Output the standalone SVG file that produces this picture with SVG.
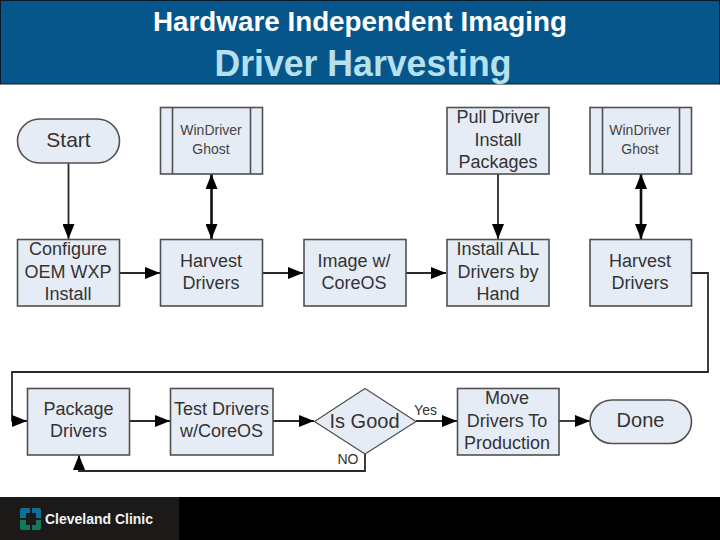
<svg xmlns="http://www.w3.org/2000/svg" width="720" height="540" viewBox="0 0 720 540">
<style>
text{font-family:"Liberation Sans",Arial,sans-serif;text-anchor:middle}
.b{fill:#e6ecf6;stroke:#505050;stroke-width:1.6}
.t{font-size:18px;fill:#333}
.s{font-size:14px;fill:#444}
.l{font-size:14px;fill:#333}
.c{fill:none;stroke:#2a2a2a;stroke-width:1.8}
.d{fill:none;stroke:#111;stroke-width:2.6}
</style>
<defs>
<marker id="a" markerUnits="userSpaceOnUse" markerWidth="16" markerHeight="12" refX="15" refY="6" orient="auto-start-reverse"><path d="M0 0L15 6L0 12Z" fill="#000"/></marker>
</defs>
<rect width="720" height="540" fill="#fff"/>
<g id="header">
<rect x="0.500" y="0.500" width="719" height="83.500" fill="#06568c" stroke="#0a1a28"/>
<text x="360" y="31" font-size="27.500" font-weight="bold" fill="#fff" textLength="414" lengthAdjust="spacingAndGlyphs">Hardware Independent Imaging</text>
<text x="363" y="76" font-size="36" font-weight="bold" fill="#b5e0ee" textLength="297" lengthAdjust="spacingAndGlyphs">Driver Harvesting</text>
</g>
<g id="connectors">
<path class="c" d="M68.500 163V239" marker-end="url(#a)"/>
<path class="d" d="M211.500 174V239" marker-start="url(#a)" marker-end="url(#a)"/>
<path class="c" d="M498 174V239" marker-end="url(#a)"/>
<path class="d" d="M641 174V239" marker-start="url(#a)" marker-end="url(#a)"/>
<path class="c" d="M119 273H160" marker-end="url(#a)"/>
<path class="c" d="M263 273H303" marker-end="url(#a)"/>
<path class="c" d="M406 273H446" marker-end="url(#a)"/>
<path class="c" d="M692 273H708V372H12V421H27" marker-end="url(#a)"/>
<path class="c" d="M130 421H170" marker-end="url(#a)"/>
<path class="c" d="M273 421H314" marker-end="url(#a)"/>
<path class="c" d="M416 421H457" marker-end="url(#a)"/>
<path class="c" d="M559 421H590" marker-end="url(#a)"/>
<path class="c" d="M365 454V471H79V455" marker-end="url(#a)"/>
</g>
<g id="start"><rect class="b" x="17.500" y="119" width="102" height="44" rx="22"/><text class="t" x="68.500" y="147" style="font-size:21px">Start</text></g>
<g id="ghost1"><rect class="b" x="160.500" y="107.500" width="102" height="66.500"/><path class="b" d="M172.500 107.500V174M250.500 107.500V174"/><text class="s" x="211" y="135">WinDriver</text><text class="s" x="211" y="154">Ghost</text></g>
<g id="pull"><rect class="b" x="447" y="107.500" width="102" height="66.500"/><text class="t" x="498" y="123">Pull Driver</text><text class="t" x="498" y="146">Install</text><text class="t" x="498" y="168">Packages</text></g>
<g id="ghost2"><rect class="b" x="590" y="107.500" width="101.500" height="66.500"/><path class="b" d="M602.500 107.500V174M679.500 107.500V174"/><text class="s" x="640" y="135">WinDriver</text><text class="s" x="640" y="154">Ghost</text></g>
<g id="configure"><rect class="b" x="17.500" y="239.500" width="102" height="66.500"/><text class="t" x="68" y="255">Configure</text><text class="t" x="68" y="278">OEM WXP</text><text class="t" x="68" y="300">Install</text></g>
<g id="harvest1"><rect class="b" x="160.500" y="239.500" width="102" height="66.500"/><text class="t" x="211" y="267">Harvest</text><text class="t" x="211" y="289">Drivers</text></g>
<g id="image"><rect class="b" x="304" y="239.500" width="102" height="66.500"/><text class="t" x="354" y="267">Image w/</text><text class="t" x="354" y="289">CoreOS</text></g>
<g id="install"><rect class="b" x="447" y="239.500" width="102" height="66.500"/><text class="t" x="498" y="255">Install ALL</text><text class="t" x="498" y="278">Drivers by</text><text class="t" x="498" y="300">Hand</text></g>
<g id="harvest2"><rect class="b" x="590" y="239.500" width="101.500" height="66.500"/><text class="t" x="640" y="267">Harvest</text><text class="t" x="640" y="289">Drivers</text></g>
<g id="package"><rect class="b" x="27.500" y="388.500" width="102" height="66.500"/><text class="t" x="78.500" y="415">Package</text><text class="t" x="78.500" y="437">Drivers</text></g>
<g id="test"><rect class="b" x="170.500" y="388.500" width="102.500" height="66.500"/><text class="t" x="221.500" y="415">Test Drivers</text><text class="t" x="221.500" y="437">w/CoreOS</text></g>
<g id="isgood"><path class="b" style="stroke-width:1.200" d="M365 388.500L416 421.500L365 454L314.500 421.500Z"/><text x="364.500" y="428" font-size="20" fill="#333">Is Good</text></g>
<g id="move"><rect class="b" x="457.500" y="388.500" width="101.500" height="66.500"/><text class="t" x="507" y="404">Move</text><text class="t" x="507" y="427">Drivers To</text><text class="t" x="507" y="449">Production</text></g>
<g id="done"><rect class="b" x="590" y="400" width="101.500" height="43.500" rx="22"/><text class="t" x="640.500" y="427" style="font-size:20px">Done</text></g>
<text class="l" x="425.500" y="415">Yes</text>
<text class="l" x="348" y="464">NO</text>
<g id="footer">
<rect y="497" width="720" height="43" fill="#000"/>
<rect y="497" width="179" height="43" fill="#1c1a18"/>
<g id="logo">
<path fill="#0f6e9c" d="M20 509.500a2 2 0 0 1 2-1.500H30V513H26V518H20ZM32 508H39a2 2 0 0 1 2 1.500V518H36V513H32Z"/>
<path fill="#0e7a5a" d="M20 520H26V525H30V530H22a2 2 0 0 1-2-2ZM36 520H41V528a2 2 0 0 1-2 2H32V525H36Z"/>
</g>
<text x="99" y="524" font-size="15.500" font-weight="bold" fill="#f2f2f2" textLength="108" lengthAdjust="spacingAndGlyphs">Cleveland Clinic</text>
</g>
</svg>
